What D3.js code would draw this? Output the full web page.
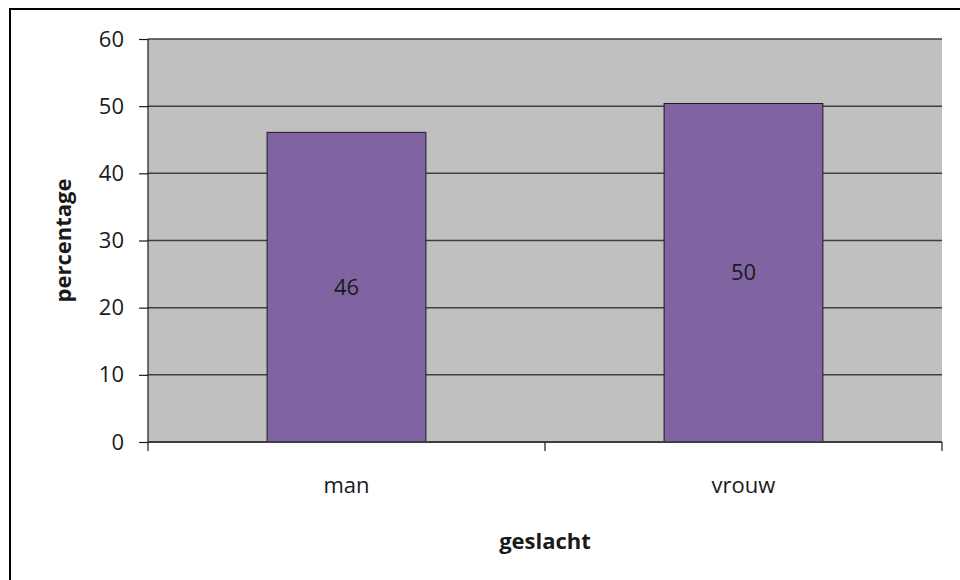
<!DOCTYPE html>
<html>
<head>
<meta charset="utf-8">
<script src="https://cdn.jsdelivr.net/npm/d3@7"></script>
<style>
  body { margin: 0; background: #fff; overflow: hidden; }
  svg { display: block; }
  text { font-family: "Open Sans", Lato, sans-serif; fill: #1a1a1a; }
</style>
</head>
<body>
<div id="chart"></div>
<script>
// data
var categories = ["man", "vrouw"];
var values = [46.1, 50.4];
var valueLabels = ["46", "50"];
var yTicks = [0, 10, 20, 30, 40, 50, 60];

var svgWidth = 960;
var svgHeight = 580;

var margin = { top: 39, right: 18, bottom: 138, left: 148 };
var width = svgWidth - margin.left - margin.right;
var height = svgHeight - margin.top - margin.bottom;
var fontSize = "22px";

var svg = d3.select("#chart")
  .append("svg")
  .attr("width", svgWidth)
  .attr("height", svgHeight);

// outer chart border, only the left and top edges fall inside the picture
svg.append("path")
  .attr("d", `M10,${svgHeight}V9H${svgWidth}`)
  .attr("fill", "none")
  .attr("stroke", "#000")
  .attr("stroke-width", 2);

var chartGroup = svg.append("g")
  .attr("transform", `translate(${margin.left}, ${margin.top})`);

// scales
var xScale = d3.scaleBand()
  .domain(categories)
  .range([0, width])
  .paddingInner(0.6)
  .paddingOuter(0.3);

var yScale = d3.scaleLinear()
  .domain([0, 60])
  .range([height, 0]);

// plot background
chartGroup.append("rect")
  .attr("width", width)
  .attr("height", height)
  .attr("fill", "#c0c0c0");

// gridlines
chartGroup.append("g")
  .selectAll("line")
  .data(yTicks.filter(d => d > 0))
  .enter()
  .append("line")
  .attr("x1", 0)
  .attr("x2", width)
  .attr("y1", d => yScale(d))
  .attr("y2", d => yScale(d))
  .attr("stroke", "#3f3f3f")
  .attr("stroke-width", 1.5);

// bars
chartGroup.selectAll(".bar")
  .data(values)
  .enter()
  .append("rect")
  .attr("class", "bar")
  .attr("x", (d, i) => xScale(categories[i]))
  .attr("y", d => yScale(d))
  .attr("width", xScale.bandwidth())
  .attr("height", d => height - yScale(d))
  .attr("fill", "#8064a2")
  .attr("stroke", "#1a1a1a")
  .attr("stroke-width", 1);

// value labels
chartGroup.selectAll(".vlabel")
  .data(values)
  .enter()
  .append("text")
  .attr("class", "vlabel")
  .attr("x", (d, i) => xScale(categories[i]) + xScale.bandwidth() / 2)
  .attr("y", d => (yScale(d) + height) / 2)
  .attr("dy", "0.35em")
  .attr("text-anchor", "middle")
  .attr("font-size", fontSize)
  .text((d, i) => valueLabels[i]);

// y axis
var leftAxis = d3.axisLeft(yScale)
  .tickValues(yTicks)
  .tickSize(9)
  .tickPadding(15);

var yAxisG = chartGroup.append("g").call(leftAxis);
yAxisG.select(".domain").attr("stroke", "#1a1a1a").attr("stroke-width", 1.2).attr("d", `M0,0V${height}`);
yAxisG.selectAll(".tick line").attr("stroke", "#1a1a1a").attr("stroke-width", 1.2);
yAxisG.selectAll(".tick text")
  .attr("font-size", fontSize)
  .attr("font-family", "'Open Sans', Lato, sans-serif")
  .attr("fill", "#1a1a1a");

// x axis: ticks between categories
var xAxisG = chartGroup.append("g")
  .attr("transform", `translate(0, ${height})`);

xAxisG.append("line")
  .attr("x1", 0)
  .attr("x2", width)
  .attr("stroke", "#3f3f3f")
  .attr("stroke-width", 2);

var boundaries = [0].concat(categories.map(c => xScale(c) + xScale.bandwidth() + xScale.step() * xScale.paddingInner() / 2));
boundaries[boundaries.length - 1] = width;

xAxisG.selectAll(".xtick")
  .data(boundaries)
  .enter()
  .append("line")
  .attr("class", "xtick")
  .attr("x1", d => d)
  .attr("x2", d => d)
  .attr("y1", 0)
  .attr("y2", 9)
  .attr("stroke", "#1a1a1a")
  .attr("stroke-width", 1.2);

xAxisG.selectAll(".xlabel")
  .data(categories)
  .enter()
  .append("text")
  .attr("class", "xlabel")
  .attr("x", d => xScale(d) + xScale.bandwidth() / 2)
  .attr("y", 43)
  .attr("dy", "0.35em")
  .attr("text-anchor", "middle")
  .attr("font-size", fontSize)
  .text(d => d);

// axis titles
chartGroup.append("text")
  .attr("transform", "rotate(-90)")
  .attr("x", -height / 2)
  .attr("y", -85)
  .attr("dy", "0.35em")
  .attr("text-anchor", "middle")
  .attr("font-size", fontSize)
  .attr("font-weight", "bold")
  .text("percentage");

chartGroup.append("text")
  .attr("x", width / 2)
  .attr("y", height + 99)
  .attr("dy", "0.35em")
  .attr("text-anchor", "middle")
  .attr("font-size", fontSize)
  .attr("font-weight", "bold")
  .text("geslacht");
</script>
</body>
</html>
